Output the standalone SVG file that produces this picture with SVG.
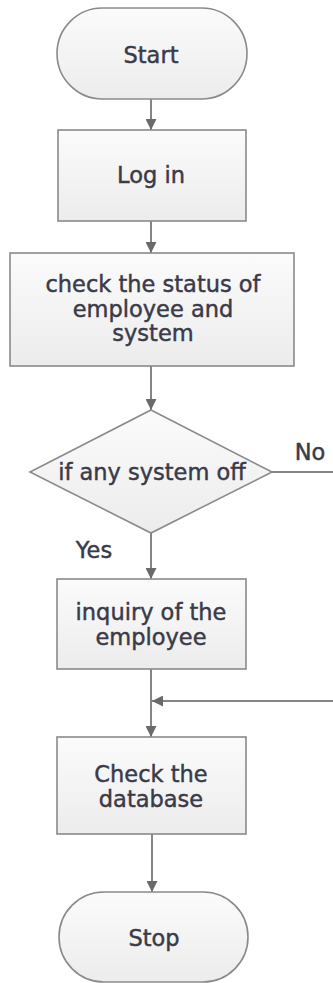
<svg xmlns="http://www.w3.org/2000/svg" width="333" height="983" viewBox="0 0 333 983">
<defs>
<linearGradient id="g" x1="0" y1="0" x2="0" y2="1">
<stop offset="0" stop-color="#fbfbfb"/>
<stop offset="1" stop-color="#ececec"/>
</linearGradient>
<marker id="ah" viewBox="0 0 10 10" refX="10" refY="5" markerWidth="5.5" markerHeight="5.5" markerUnits="strokeWidth" orient="auto">
<path d="M0,0 L10,5 L0,10 Z" fill="#6a6a6a"/>
</marker>
<style>
.n{fill:url(#g);stroke:#8a8a8a;stroke-width:1.6}
.t{font-family:"DejaVu Sans",Verdana,sans-serif;font-size:22.5px;fill:#3a3a48;stroke:#3a3a48;stroke-width:0.45;text-anchor:middle}
.c{fill:none;stroke:#858585;stroke-width:2}
</style>
</defs>
<rect width="333" height="983" fill="#ffffff"/>
<g id="connectors">
<path class="c" d="M151,99 V130" marker-end="url(#ah)"/>
<path class="c" d="M151,221 V253" marker-end="url(#ah)"/>
<path class="c" d="M151,366 V410" marker-end="url(#ah)"/>
<path class="c" d="M151,533 V579" marker-end="url(#ah)"/>
<path class="c" d="M151,669 V737" marker-end="url(#ah)"/>
<path class="c" d="M272,472 H345 V701 H152" marker-end="url(#ah)"/>
<path class="c" d="M152,834 V892" marker-end="url(#ah)"/>
<text class="t" x="310" y="460">No</text>
<text class="t" x="94" y="558">Yes</text>
</g>
<g id="start">
<rect class="n" x="57" y="8" width="190" height="91" rx="45.5"/>
<text class="t" x="151" y="63">Start</text>
</g>
<g id="login">
<rect class="n" x="58" y="130" width="188" height="91"/>
<text class="t" x="151" y="183">Log in</text>
</g>
<g id="check-status">
<rect class="n" x="10" y="253" width="284" height="113"/>
<text class="t" x="153" y="292">check the status of</text>
<text class="t" x="153" y="317">employee and</text>
<text class="t" x="153" y="341">system</text>
</g>
<g id="decision">
<polygon class="n" points="151,410 272,472 151,533 30,472"/>
<text class="t" x="152" y="480">if any system off</text>
</g>
<g id="inquiry">
<rect class="n" x="57" y="579" width="189" height="90"/>
<text class="t" x="151" y="620">inquiry of the</text>
<text class="t" x="151" y="645">employee</text>
</g>
<g id="database">
<rect class="n" x="57" y="737" width="189" height="97"/>
<text class="t" x="151" y="782">Check the</text>
<text class="t" x="151" y="807">database</text>
</g>
<g id="stop">
<rect class="n" x="59" y="892" width="189" height="90" rx="45"/>
<text class="t" x="154" y="946">Stop</text>
</g>
</svg>
